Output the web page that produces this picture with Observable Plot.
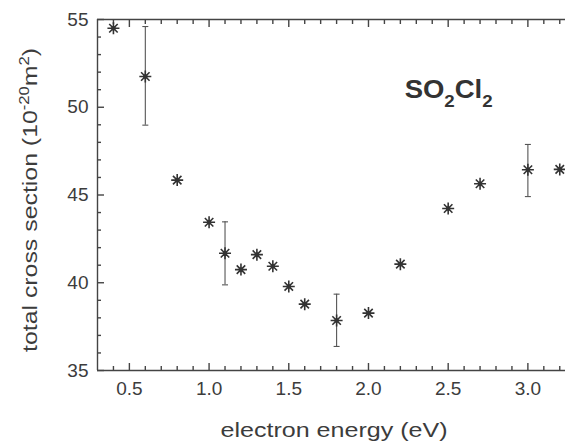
<!DOCTYPE html>
<html>
<head>
<meta charset="utf-8">
<script src="https://cdn.jsdelivr.net/npm/d3@7"></script>
<script src="https://cdn.jsdelivr.net/npm/@observablehq/plot@0.6"></script>
<style>
  html, body { margin: 0; padding: 0; background: #fff; }
  #chart { width: 565px; height: 443px; }
  svg { font-family: "Liberation Sans", Arial, sans-serif; }
</style>
</head>
<body>
<div id="chart"></div>
<script>
// Total electron scattering cross section of SO2Cl2 vs. electron energy
const energy = [0.4, 0.6, 0.8, 1.0, 1.1, 1.2, 1.3, 1.4, 1.5, 1.6, 1.8, 2.0, 2.2, 2.5, 2.7, 3.0, 3.2];
const crossSection = [54.5, 51.75, 45.85, 43.45, 41.68, 40.75, 41.6, 40.94, 39.79, 38.78, 37.85, 38.27, 41.06, 44.23, 45.64, 46.44, 46.46];

// Error bars shown for selected energies
const errEnergy = [0.6, 1.1, 1.8, 3.0];
const errLow = [48.98, 39.88, 36.37, 44.91];
const errHigh = [54.6, 43.47, 39.35, 47.88];

// Axis ticks
const xMajor = [0.5, 1.0, 1.5, 2.0, 2.5, 3.0];
const xMinor = [0.4, 0.6, 0.7, 0.8, 0.9, 1.1, 1.2, 1.3, 1.4, 1.6, 1.7, 1.8, 1.9, 2.1, 2.2, 2.3, 2.4, 2.6, 2.7, 2.8, 2.9, 3.1, 3.2];
const yMajor = [35, 40, 45, 50, 55];
const yMinor = [36, 37, 38, 39, 41, 42, 43, 44, 46, 47, 48, 49, 51, 52, 53, 54];

const xDomain = [0.3, 3.236];
const yDomain = [35, 55];

const points = energy.map((e, i) => ({e, v: crossSection[i]}));
const errors = errEnergy.map((e, i) => ({e, lo: errLow[i], hi: errHigh[i]}));

// Eight-armed asterisk marker
const star = {
  draw(ctx, size) {
    const r = Math.sqrt(size / Math.PI);
    for (const a of [0, 45, 90, 135]) {
      const t = a * Math.PI / 180, c = Math.cos(t) * r, s = Math.sin(t) * r;
      ctx.moveTo(c, s);
      ctx.lineTo(-c, -s);
    }
  }
};
// Horizontal cap for error bars
const cap = {
  draw(ctx, size) {
    const r = Math.sqrt(size / Math.PI);
    ctx.moveTo(-r, 0);
    ctx.lineTo(r, 0);
  }
};

const ink = "#3c3c3c";
const frame = "#444";

// inward-pointing ticks on the bottom, top and left edges of the frame
const inward = (anchor, values, size) =>
  (anchor === "left" ? Plot.axisY : Plot.axisX)(values, {
    anchor, tickSize: -size, fill: "none", stroke: frame, strokeWidth: 1.4, label: null
  });

const plot = Plot.plot({
  width: 565,
  height: 443,
  marginLeft: 97,
  marginRight: 0,
  marginTop: 19,
  marginBottom: 73,
  style: {fontFamily: "Liberation Sans, Arial, sans-serif", color: ink, background: "#fff"},
  x: {domain: xDomain},
  y: {domain: yDomain},
  marks: [
    // frame: top, bottom, left
    Plot.ruleY(yDomain, {stroke: frame, strokeWidth: 1.4}),
    Plot.ruleX([xDomain[0]], {stroke: frame, strokeWidth: 1.4}),
    inward("bottom", xMajor, 7), inward("bottom", xMinor, 4),
    inward("top", xMajor, 7), inward("top", xMinor, 4),
    inward("left", yMajor, 7), inward("left", yMinor, 4),
    // tick labels
    Plot.axisX(xMajor, {anchor: "bottom", tickSize: 0, tickPadding: 11, fontSize: 19, fill: ink,
      tickFormat: d => d.toFixed(1), label: null}),
    Plot.axisY(yMajor, {anchor: "left", tickSize: 0, tickPadding: 9, fontSize: 19, fill: ink,
      tickFormat: d => String(d), label: null}),
    // error bars
    Plot.ruleX(errors, {x: "e", y1: "lo", y2: "hi", stroke: "#555", strokeWidth: 1.1}),
    Plot.dot(errors, {x: "e", y: "lo", symbol: cap, r: 3, fill: "none", stroke: "#555", strokeWidth: 1.1}),
    Plot.dot(errors, {x: "e", y: "hi", symbol: cap, r: 3, fill: "none", stroke: "#555", strokeWidth: 1.1}),
    // data markers
    Plot.dot(points, {x: "e", y: "v", symbol: star, r: 6, fill: "none", stroke: "#333", strokeWidth: 1.6}),
    Plot.dot(points, {x: "e", y: "v", r: 2.2, fill: "#333", stroke: "none"})
  ]
});

document.getElementById("chart").appendChild(plot);

// Titles with super/subscripts
const svg = d3.select(plot);
const sx = plot.scale("x"), sy = plot.scale("y");

// x-axis title
svg.append("text")
  .attr("x", 334).attr("y", 437)
  .attr("text-anchor", "middle")
  .attr("font-size", 20)
  .attr("fill", ink)
  .attr("textLength", 227)
  .attr("lengthAdjust", "spacingAndGlyphs")
  .text("electron energy (eV)");

// y-axis title
const yt = svg.append("text")
  .attr("transform", "translate(37,200) rotate(-90)")
  .attr("text-anchor", "middle")
  .attr("font-size", 21)
  .attr("fill", ink)
  .attr("textLength", 304)
  .attr("lengthAdjust", "spacingAndGlyphs");
yt.append("tspan").text("total cross section (10");
yt.append("tspan").attr("dy", -8).attr("font-size", 14).text("-20");
yt.append("tspan").attr("dy", 8).text("m");
yt.append("tspan").attr("dy", -8).attr("font-size", 14).text("2");
yt.append("tspan").attr("dy", 8).text(")");

// compound name
const nm = svg.append("text")
  .attr("x", sx.apply(2.23)).attr("y", sy.apply(50.5))
  .attr("text-anchor", "start")
  .attr("font-size", 25)
  .attr("font-weight", "bold")
  .attr("fill", "#333")
  .attr("textLength", 88)
  .attr("lengthAdjust", "spacingAndGlyphs");
nm.append("tspan").text("SO");
nm.append("tspan").attr("dy", 9).attr("font-size", 17).text("2");
nm.append("tspan").attr("dy", -9).text("Cl");
nm.append("tspan").attr("dy", 9).attr("font-size", 17).text("2");
</script>
</body>
</html>
